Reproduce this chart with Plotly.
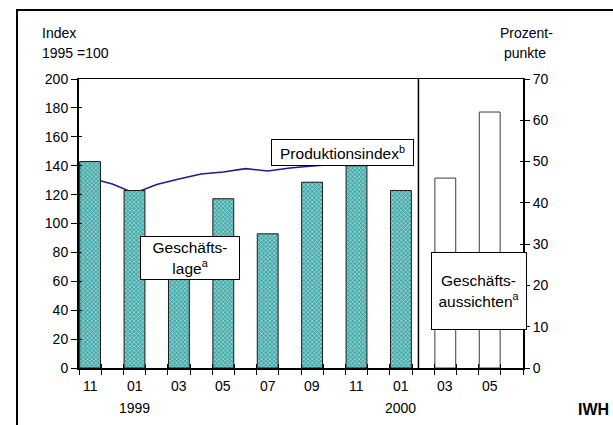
import plotly.graph_objects as go

# Monthly timeline, Nov 1998 - Jun 2000
months = ["1998-11", "1998-12",
          "1999-01", "1999-02", "1999-03", "1999-04", "1999-05", "1999-06",
          "1999-07", "1999-08", "1999-09", "1999-10", "1999-11", "1999-12",
          "2000-01", "2000-02", "2000-03", "2000-04", "2000-05", "2000-06"]
pos = {m: i for i, m in enumerate(months)}

# Geschäftslage (balance, Prozentpunkte)
lage_months = ["1998-11", "1999-01", "1999-03", "1999-05", "1999-07",
               "1999-09", "1999-11", "2000-01"]
lage_values = [50, 43, 27, 41, 32.5, 45, 49, 43]

# Geschäftsaussichten (balance, Prozentpunkte)
aussichten_months = ["2000-03", "2000-05"]
aussichten_values = [46, 62]

# Produktionsindex, 1995 = 100
prod_months = months[:13]
prod_values = [131.5, 127.3, 121.0, 127.0, 130.8, 134.3, 135.6, 138.0,
               136.3, 138.4, 139.8, 141.0, 142.0]

# Axis labels
tick_months = ["1998-11", "1999-01", "1999-03", "1999-05", "1999-07",
               "1999-09", "1999-11", "2000-01", "2000-03", "2000-05"]
tick_labels = ["11", "01", "03", "05", "07", "09", "11", "01", "03", "05"]
year_months = ["1999-01", "2000-01"]
year_labels = ["1999", "2000"]
split_month = "2000-02"

FONT = "Liberation Sans, Arial, sans-serif"
xr = [-0.5, len(months) - 0.5]
boundaries = [i - 0.5 for i in range(len(months) + 1)]

fig = go.Figure()

fig.add_trace(go.Scatter(
    x=[pos[m] for m in prod_months], y=prod_values,
    mode="lines", line=dict(color="#1c1c96", width=1.6),
    xaxis="x", yaxis="y", showlegend=False, hoverinfo="skip"))

fig.add_trace(go.Bar(
    x=[pos[m] for m in lage_months], y=lage_values,
    width=0.94, xaxis="x", yaxis="y2", showlegend=False,
    marker=dict(color="#48a8a8", opacity=1,
                pattern=dict(shape="x", fgcolor="#a8e2e2", bgcolor="#48a8a8",
                             size=3, solidity=0.4),
                line=dict(color="#1a1a1a", width=1))))

fig.add_trace(go.Bar(
    x=[pos[m] for m in aussichten_months], y=aussichten_values,
    width=0.94, xaxis="x", yaxis="y2", showlegend=False,
    marker=dict(color="white", opacity=1, line=dict(color="#3a3a3a", width=1))))

# Empty traces so the helper axes (inner ticks, top line) get drawn
for xa, ya in [("x2", "y"), ("x4", "y"), ("x", "y3"), ("x", "y4")]:
    fig.add_trace(go.Scatter(x=[], y=[], xaxis=xa, yaxis=ya,
                             showlegend=False, hoverinfo="skip"))

plain = dict(showgrid=False, zeroline=False)

fig.update_layout(
    template="none",
    width=613, height=425,
    margin=dict(l=79, r=90, t=79, b=57),
    paper_bgcolor="white", plot_bgcolor="white",
    barmode="overlay",
    font=dict(family=FONT, size=14, color="black"),
    # bottom axis: line and outer ticks at month boundaries
    xaxis=dict(**plain, range=xr, tickmode="array", tickvals=boundaries,
               ticks="outside", ticklen=5, tickwidth=1, tickcolor="black",
               showticklabels=False, showline=True, linecolor="black", linewidth=2),
    # inner half of the month ticks
    xaxis2=dict(**plain, range=xr, overlaying="x", anchor="y",
                tickmode="array", tickvals=boundaries, ticks="inside", ticklen=4,
                tickwidth=1, tickcolor="black", showticklabels=False, showline=False),
    # top border of the plot area
    xaxis4=dict(**plain, range=xr, overlaying="x", anchor="y", side="top",
                ticks="", showticklabels=False, showline=True,
                linecolor="black", linewidth=1),
    yaxis=dict(**plain, range=[0, 200], tickmode="linear", tick0=0, dtick=20,
               ticks="outside", ticklen=6, tickwidth=1, tickcolor="black",
               showline=True, linecolor="black", linewidth=2),
    yaxis2=dict(**plain, range=[0, 70], overlaying="y", side="right", anchor="x",
                tickmode="linear", tick0=0, dtick=10,
                ticks="outside", ticklen=5, tickwidth=1, tickcolor="black",
                showline=True, linecolor="black", linewidth=2),
    yaxis3=dict(**plain, range=[0, 200], overlaying="y", side="left", anchor="x",
                tickmode="linear", tick0=0, dtick=20, ticks="inside", ticklen=3,
                tickwidth=1, tickcolor="black", showticklabels=False, showline=False),
    yaxis4=dict(**plain, range=[0, 70], overlaying="y", side="right", anchor="x",
                tickmode="linear", tick0=0, dtick=10, ticks="inside", ticklen=3,
                tickwidth=1, tickcolor="black", showticklabels=False, showline=False),
)

# Separator between observed situation and expectations
fig.add_shape(type="line", xref="x", yref="paper",
              x0=pos[split_month] - 0.21, x1=pos[split_month] - 0.21, y0=0, y1=1,
              line=dict(color="black", width=1.5), layer="above")

# Outer frame
fig.add_shape(type="rect", xref="paper", yref="paper",
              x0=-0.1396, x1=1.6, y0=-0.6, y1=1.2388,
              line=dict(color="black", width=2), layer="above")

box = dict(bgcolor="white", bordercolor="black", borderwidth=1, borderpad=0,
           showarrow=False, font=dict(family=FONT, size=15.5, color="black"))

fig.add_annotation(text="Geschäfts-<br>lage<sup>a</sup>", xref="x", yref="y",
                   x=4.48, y=76, width=98, height=42, **box)
fig.add_annotation(text="Produktionsindex<sup>b</sup>",
                   xref="x", yref="y", x=11.36, y=149, width=141, height=25, **box)
fig.add_annotation(text="Geschäfts-<br>aussichten<sup>a</sup>", xref="x", yref="y",
                   x=17.5, y=53.3, width=94, height=76, **box)

txt = dict(showarrow=False, font=dict(family=FONT, size=14, color="black"))
fig.add_annotation(text="Index", xref="paper", yref="paper", x=-0.0878, y=1.159,
                   xanchor="left", yanchor="middle", **txt)
fig.add_annotation(text="1995 =100", xref="paper", yref="paper", x=-0.0878, y=1.090,
                   xanchor="left", yanchor="middle", **txt)
fig.add_annotation(text="Prozent-", xref="paper", yref="paper", x=1.0068, y=1.159,
                   xanchor="center", yanchor="middle", **txt)
fig.add_annotation(text="punkte", xref="paper", yref="paper", x=1.0045, y=1.090,
                   xanchor="center", yanchor="middle", **txt)
# Month labels centred in their periods, years below
for m, lab in zip(tick_months, tick_labels):
    fig.add_annotation(text=lab, xref="x", yref="paper", x=pos[m], y=-0.0623,
                       xanchor="center", yanchor="middle", **txt)
for m, lab in zip(year_months, year_labels):
    fig.add_annotation(text=lab, xref="x", yref="paper", x=pos[m], y=-0.138,
                       xanchor="center", yanchor="middle", **txt)
fig.add_annotation(text="<b>IWH</b>", xref="paper", yref="paper", x=1.198, y=-0.145,
                   xanchor="right", yanchor="middle", showarrow=False,
                   font=dict(family=FONT, size=16, color="black"))

fig.write_html("out.html")
